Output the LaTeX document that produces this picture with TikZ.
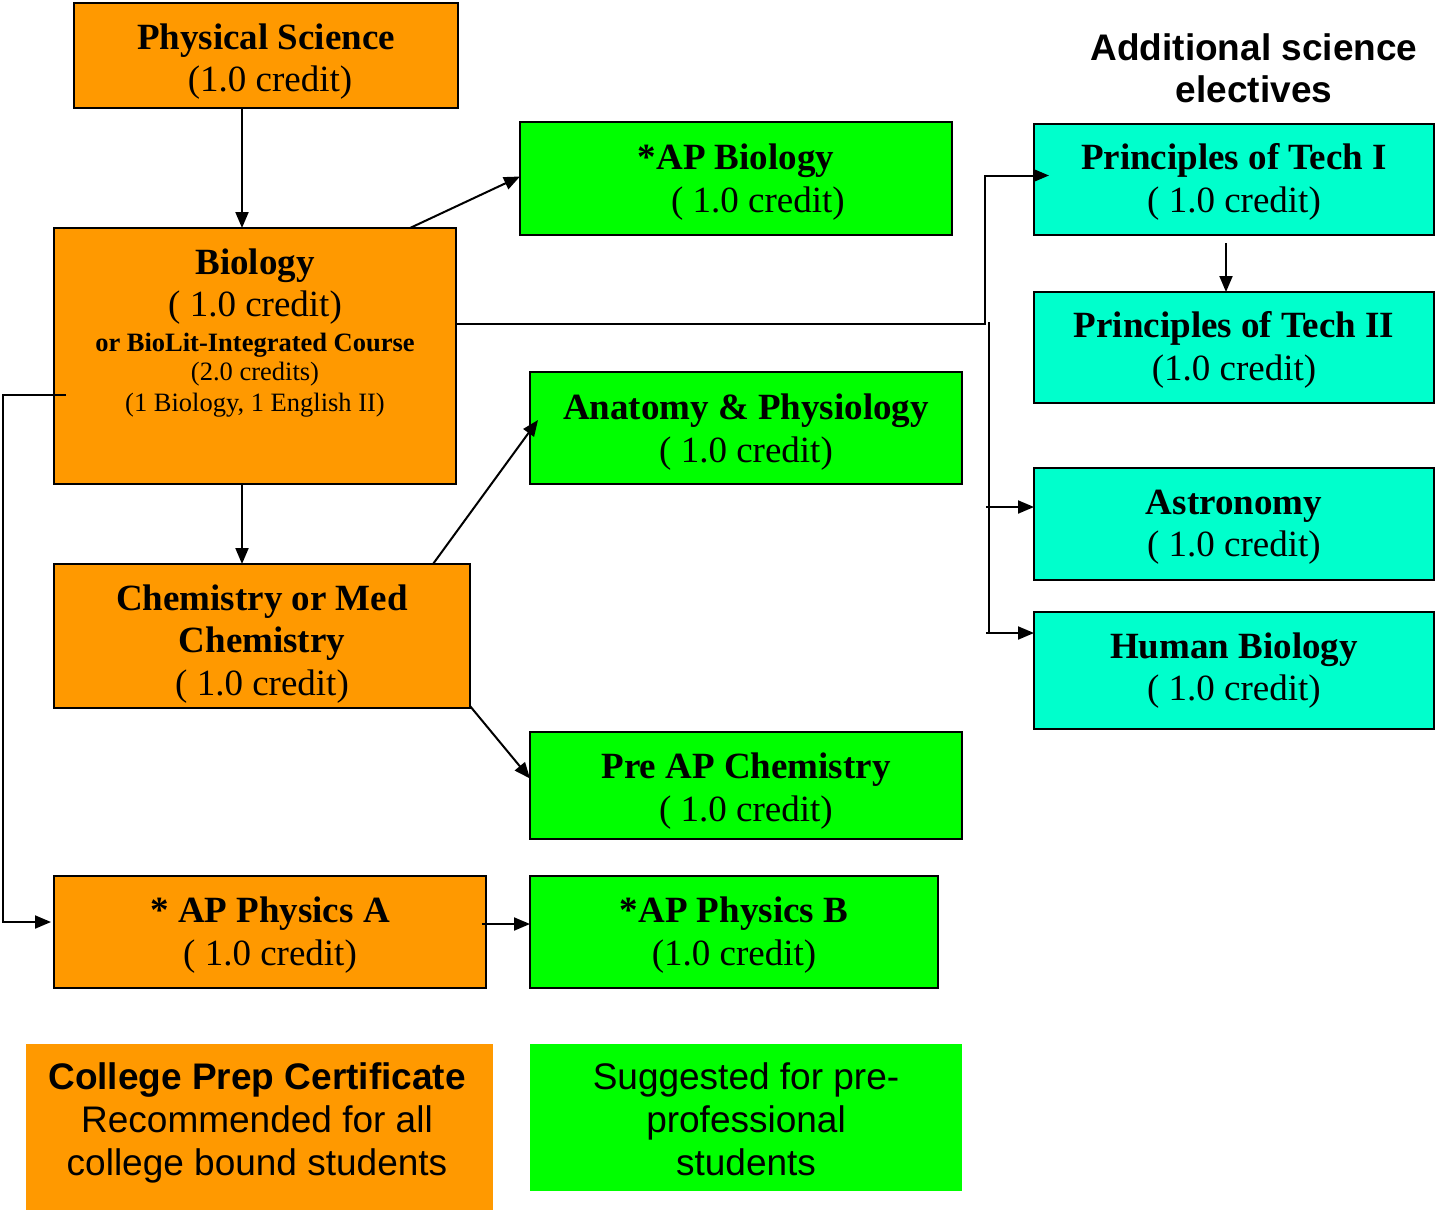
\documentclass[tikz,border=0pt]{standalone}
\usepackage{fontspec}
\setmainfont{Liberation Serif}
\setsansfont{Liberation Sans}
\usetikzlibrary{arrows.meta}
\definecolor{orangebox}{RGB}{255,153,0}
\definecolor{greenbox}{RGB}{0,255,0}
\definecolor{cyanbox}{RGB}{0,255,204}
\tikzset{
  box/.style={draw=black, line width=1.6pt, inner sep=0pt, outer sep=0pt},
  orangecell/.style={box, fill=orangebox},
  greencell/.style={box, fill=greenbox},
  cyancell/.style={box, fill=cyanbox},
  txt/.style={inner sep=0pt, align=center, font=\fontsize{37}{42.5}\selectfont},
  sanstxt/.style={inner sep=0pt, align=center, font=\sffamily\fontsize{37}{43}\selectfont},
  conn/.style={line width=2pt, draw=black},
  arr/.style={conn, -{Triangle[length=16pt,width=13pt]}},
}
\begin{document}
\begin{tikzpicture}[x=1pt,y=-1pt]
\useasboundingbox (0,0) rectangle (1437,1211);
\fill[white] (0,0) rectangle (1437,1211);

% left column
\node[orangecell, minimum width=384pt, minimum height=105pt] (ps) at (266,55.5) {};
\node[txt] (pst) at (266,61.5) {\textbf{Physical Science}\\\hspace*{8pt}(1.0 credit)};
\node[orangecell, minimum width=402pt, minimum height=256pt] (bio) at (255,356) {};
\node[txt] (biot) at (255,333)
  {\textbf{Biology}\\( 1.0 credit)\\[-8pt]
   {\fontsize{26.5}{30.5}\selectfont\textbf{or BioLit-Integrated Course}}\\[-13pt]
   {\fontsize{26.5}{30.5}\selectfont (2.0 credits)}\\[-12pt]
   {\fontsize{26.5}{30.5}\selectfont (1 Biology, 1 English II)}};
\node[orangecell, minimum width=416pt, minimum height=144pt] (chem) at (262,636) {};
\node[txt] (chemt) at (262,644) {\textbf{Chemistry or Med}\\\textbf{Chemistry}\\( 1.0 credit)};
\node[orangecell, minimum width=432pt, minimum height=112pt] (phya) at (270,932) {};
\node[txt] (phyat) at (270,935) {\textbf{* AP Physics A}\\( 1.0 credit)};

% middle column
\node[greencell, minimum width=432pt, minimum height=113pt] (apbio) at (736,178.5) {};
\node[txt] (apbiot) at (736,182) {\textbf{*AP Biology}\\\hspace*{44pt}( 1.0 credit)};
\node[greencell, minimum width=432pt, minimum height=112pt] (anat) at (746,428) {};
\node[txt] (anatt) at (746,432) {\textbf{Anatomy \& Physiology}\\( 1.0 credit)};
\node[greencell, minimum width=432pt, minimum height=107pt] (preap) at (746,785.5) {};
\node[txt] (preapt) at (746,791) {\textbf{Pre AP Chemistry}\\( 1.0 credit)};
\node[greencell, minimum width=408pt, minimum height=112pt] (phyb) at (734,932) {};
\node[txt] (phybt) at (734,935) {\textbf{*AP Physics B}\\(1.0 credit)};

% right column
\node[sanstxt, font=\sffamily\bfseries\fontsize{37}{42}\selectfont] (addl) at (1254,68)
  {Additional science\\electives};
\node[cyancell, minimum width=400pt, minimum height=111pt] (t1) at (1234,179.5) {};
\node[txt] (t1t) at (1234,182) {\textbf{Principles of Tech I}\\( 1.0 credit)};
\node[cyancell, minimum width=400pt, minimum height=111pt] (t2) at (1234,347.5) {};
\node[txt] (t2t) at (1234,350) {\textbf{Principles of Tech II}\\(1.0 credit)};
\node[cyancell, minimum width=400pt, minimum height=112pt] (astro) at (1234,524) {};
\node[txt] (astrot) at (1234,527) {\textbf{Astronomy}\\( 1.0 credit)};
\node[cyancell, minimum width=400pt, minimum height=117pt] (hbio) at (1234,670.5) {};
\node[txt] (hbiot) at (1234,670.5) {\textbf{Human Biology}\\( 1.0 credit)};

% legend
\node[fill=orangebox, inner sep=0pt, minimum width=467pt, minimum height=166pt] (cp) at (259.5,1127) {};
\node[sanstxt] (cpt) at (257,1123)
  {\textbf{College Prep Certificate}\\Recommended for all\\college bound students};
\node[fill=greenbox, inner sep=0pt, minimum width=432pt, minimum height=147pt] (sugg) at (746,1117.5) {};
\node[sanstxt] (suggt) at (746,1119.5) {Suggested for pre-\\professional\\students};

% connectors
\draw[arr] ([xshift=168pt]ps.south west) -- ([xshift=188pt]bio.north west);
\draw[arr] ([xshift=356pt]bio.north west) -- ([yshift=2pt]apbio.west);
\coordinate (j1) at (985,324);
\draw[arr] ([yshift=32pt]bio.east) -- (j1) |- ([xshift=15pt,yshift=4pt]t1.west);
\draw[arr] ([xshift=-8pt,yshift=-8pt]t1.south) -- ([xshift=-8pt]t2.north);
\coordinate (bus) at (989,322);
\coordinate (astroIn) at ([yshift=17pt]astro.west);
\coordinate (hbioIn) at ([yshift=37.5pt]hbio.west);
\draw[conn] (bus) -- (bus |- hbioIn);
\draw[arr] ([xshift=-3pt]bus |- astroIn) -- (astroIn);
\draw[arr] ([xshift=-3pt]bus |- hbioIn) -- (hbioIn);
\coordinate (j2) at (3,395);
\draw[arr] ([xshift=12pt,yshift=-39pt]bio.west) -- (j2) |- ([xshift=-3pt,yshift=10pt]phya.west);
\draw[arr] ([xshift=188pt]bio.south west) -- ([xshift=188pt]chem.north west);
\draw[arr] ([xshift=379pt]chem.north west) -- ([xshift=8pt,yshift=8pt]anat.west);
\draw[arr] ([yshift=2pt]chem.south east) -- ([yshift=7pt]preap.west);
\draw[arr] ([xshift=-4pt,yshift=8pt]phya.east) -- ([yshift=8pt]phyb.west);
\end{tikzpicture}
\end{document}
